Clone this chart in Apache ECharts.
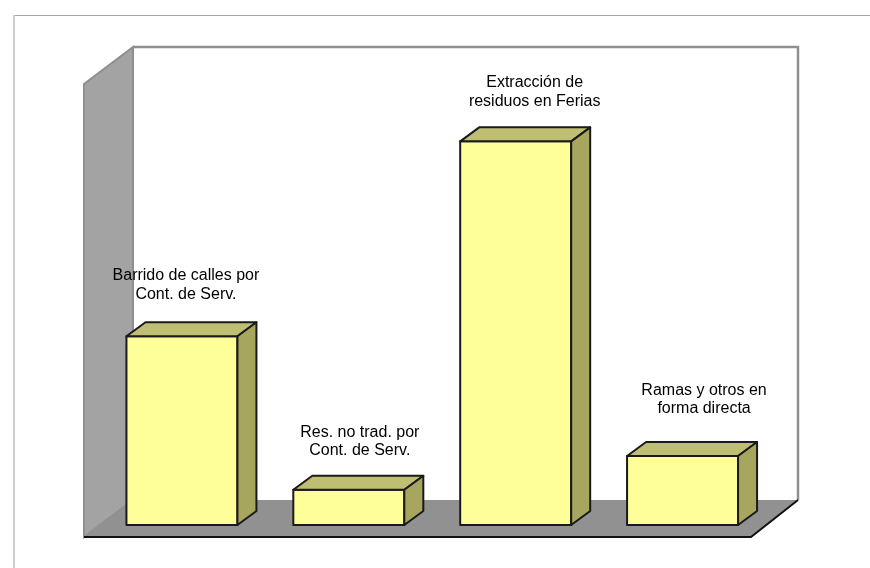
<!DOCTYPE html>
<html lang="en">
<head>
    <meta charset="UTF-8">
    <title>Residuos</title>
    <script src="https://cdn.jsdelivr.net/npm/echarts@6/dist/echarts.min.js"></script>
    <style>
        html, body { margin: 0; padding: 0; background: #fff; }
        #chart { width: 870px; height: 568px; }
    </style>
</head>
<body>
<div id="chart"></div>
<script>
    // no axis in the picture, read as shares of the total from the bar heights
    var categories = [
        'Barrido de calles por\nCont. de Serv.',
        'Res. no trad. por\nCont. de Serv.',
        'Extracción de\nresiduos en Ferias',
        'Ramas y otros en\nforma directa'
    ]
    var shares = [27.9, 5.2, 56.7, 10.2]

    var labelShift = [[4, -51], [11, -48], [19, -49], [21.5, -56.5]]
    var depthX = 19
    var depthY = -14
    var halfBar = 55.5

    var myChart = echarts.init(document.getElementById('chart'))

    function poly(points, fill, stroke, width) {
        return {
            type: 'polygon',
            shape: {points: points},
            style: {fill: fill, stroke: stroke, lineWidth: width, lineJoin: 'round'}
        }
    }

    function drawBox(params, api) {
        var i = api.value(0)
        var top = api.coord([i, api.value(1)])
        var base = api.coord([i, 0])
        var l = top[0] - halfBar
        var r = top[0] + halfBar
        var t = top[1]
        var b = base[1]
        return {
            type: 'group',
            children: [
                poly([[l, t], [r, t], [r, b], [l, b]], '#ffff99', '#1a1a1a', 2),
                poly([[l, t], [l + depthX, t + depthY], [r + depthX, t + depthY], [r, t]], '#bfbf73', '#1a1a1a', 2),
                poly([[r, t], [r + depthX, t + depthY], [r + depthX, b + depthY], [r, b]], '#a6a65e', '#1a1a1a', 2),
                {
                    type: 'text',
                    x: top[0] + labelShift[i][0],
                    y: t + labelShift[i][1],
                    style: {
                        text: categories[i],
                        fill: '#000000',
                        font: '16px "Liberation Sans", Arial, sans-serif',
                        lineHeight: 18.5,
                        align: 'center',
                        verticalAlign: 'middle'
                    }
                }
            ]
        }
    }

    myChart.setOption({
        animation: false,
        backgroundColor: '#ffffff',
        graphic: {
            elements: [
                {
                    type: 'line', z: 0, silent: true,
                    shape: {x1: 14, y1: 15.5, x2: 870, y2: 15.5},
                    style: {stroke: '#a6a6a6', lineWidth: 1}
                },
                {
                    type: 'line', z: 0, silent: true,
                    shape: {x1: 14, y1: 15, x2: 14, y2: 568},
                    style: {stroke: '#cccccc', lineWidth: 2}
                },
                {
                    type: 'polygon', z: 1, silent: true,
                    shape: {points: [[84, 84], [133, 47], [133, 500], [84, 537]]},
                    style: {fill: '#a3a3a3', stroke: '#8f8f8f', lineWidth: 2}
                },
                {
                    type: 'polyline', z: 1, silent: true,
                    shape: {points: [[133, 47], [798, 47], [798, 500]]},
                    style: {fill: 'none', stroke: '#8f8f8f', lineWidth: 2.5}
                },
                {
                    type: 'polygon', z: 1, silent: true,
                    shape: {points: [[133, 500], [798, 500], [751, 537], [84, 537]]},
                    style: {fill: '#919191', stroke: 'none'}
                },
                {
                    type: 'polyline', z: 1, silent: true,
                    shape: {points: [[84, 537], [751, 537], [798, 500]]},
                    style: {fill: 'none', stroke: '#111111', lineWidth: 2}
                }
            ]
        },
        grid: {left: 98.5, right: 104, top: 119, bottom: 43},
        xAxis: {type: 'category', data: categories, show: false},
        yAxis: {type: 'value', min: 0, max: 60, show: false},
        series: [{
            type: 'custom',
            z: 5,
            clip: false,
            renderItem: drawBox,
            encode: {x: 0, y: 1},
            data: shares.map(function (v, i) { return [i, v] })
        }]
    })
</script>
</body>
</html>
